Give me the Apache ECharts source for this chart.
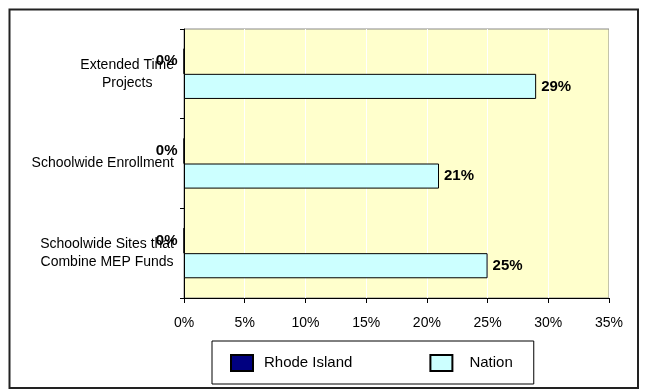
<!DOCTYPE html>
<html>
<head>
<meta charset="utf-8">
<script src="https://cdn.jsdelivr.net/npm/echarts@6/dist/echarts.min.js"></script>
<style>
html,body{margin:0;padding:0;background:#fff;}
#chart{width:649px;height:392px;}
</style>
</head>
<body>
<div id="chart"></div>
<script>
var categories = ['Extended Time\nProjects', 'Schoolwide Enrollment', 'Schoolwide Sites that\nCombine MEP Funds'];
var rhodeIsland = [0, 0, 0];
var nation = [29, 21, 25];
var seriesNames = ['Rhode Island', 'Nation'];
var xTicks = { min: 0, max: 35, interval: 5 };

var FONT = 'Liberation Sans, Arial, sans-serif';
var chart = echarts.init(document.getElementById('chart'));
chart.setOption({
  animation: false,
  backgroundColor: '#fff',
  textStyle: { fontFamily: FONT },
  graphic: [{
    type: 'rect',
    shape: { x: 9.5, y: 9.5, width: 628.5, height: 378.5 },
    style: { fill: 'none', stroke: '#222', lineWidth: 2 },
    silent: true
  }],
  grid: {
    left: 184, right: 40, top: 29, bottom: 94,
    show: true, backgroundColor: '#FFFFCC', borderColor: '#888', borderWidth: 1
  },
  legend: {
    data: [
      { name: seriesNames[0], textStyle: { padding: [0, 0, 0, 6] } },
      { name: seriesNames[1], textStyle: { padding: [0, 0, 0, 12] } }
    ],
    left: 212, top: 341,
    icon: 'rect', itemWidth: 22, itemHeight: 16, itemGap: 77,
    padding: [13, 21, 12, 18],
    borderColor: '#000', borderWidth: 1,
    textStyle: { fontSize: 15, color: '#000', fontFamily: FONT }
  },
  xAxis: {
    type: 'value', min: xTicks.min, max: xTicks.max, interval: xTicks.interval,
    axisLine: { show: true, lineStyle: { color: '#000', width: 1 } },
    axisTick: { show: true, length: 5, lineStyle: { color: '#000' } },
    axisLabel: { formatter: '{value}%', color: '#000', fontSize: 14, margin: 18, fontFamily: FONT },
    splitLine: { show: true, lineStyle: { color: '#fff', width: 1 } }
  },
  yAxis: {
    type: 'category', data: categories, inverse: true,
    axisLine: { show: true, lineStyle: { color: '#000', width: 1 } },
    axisTick: { show: true, length: 4, lineStyle: { color: '#000' } },
    axisLabel: {
      color: '#000', fontSize: 14, margin: 10, fontFamily: FONT,
      formatter: function (v) {
        return v.split('\n').map(function (s) { return '{a|' + s + '}'; }).join('\n');
      },
      rich: { a: { align: 'center', fontSize: 14, color: '#000', lineHeight: 18, fontFamily: FONT } }
    },
    splitLine: { show: false }
  },
  series: [{
    name: seriesNames[0], type: 'bar', data: rhodeIsland,
    barGap: '0%', barCategoryGap: '44%',
    itemStyle: { color: '#000080', borderColor: '#000', borderWidth: 1 },
    label: { show: true, position: 'left', distance: 6, formatter: '{c}%', color: '#000', fontWeight: 'bold', fontSize: 15, fontFamily: FONT }
  }, {
    name: seriesNames[1], type: 'bar', data: nation,
    barGap: '0%', barCategoryGap: '44%',
    itemStyle: { color: '#CCFFFF', borderColor: '#000', borderWidth: 1 },
    label: { show: true, position: 'right', distance: 5, formatter: '{c}%', color: '#000', fontWeight: 'bold', fontSize: 15, fontFamily: FONT }
  }]
});
</script>
</body>
</html>
